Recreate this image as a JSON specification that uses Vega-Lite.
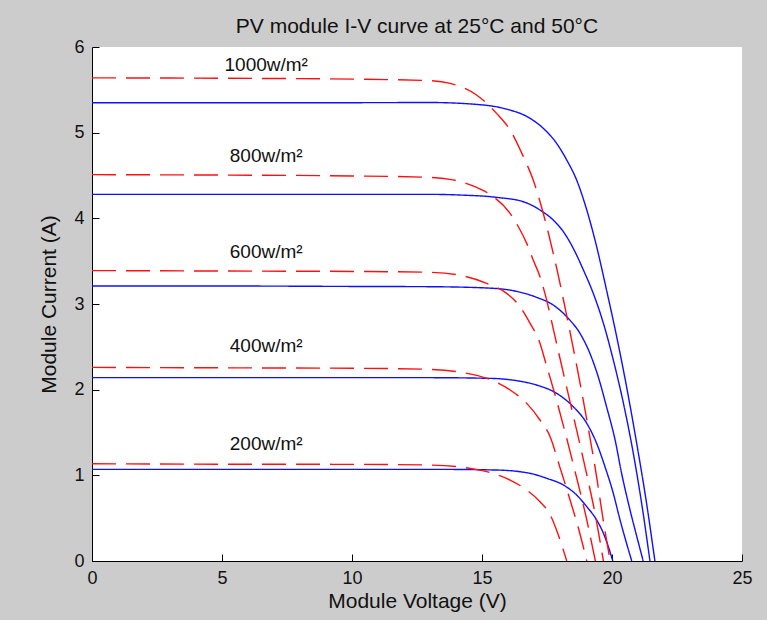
{
  "$schema": "https://vega.github.io/schema/vega-lite/v6.json",
  "width": 650,
  "height": 514,
  "autosize": {"type": "none"},
  "padding": {"left": 92, "top": 47, "right": 25, "bottom": 59},
  "background": "#cccccc",
  "config": {
    "view": {"stroke": null, "fill": "white"},
    "font": "Liberation Sans",
    "axis": {
      "grid": false,
      "domainColor": "#000000",
      "domainWidth": 1,
      "tickColor": "#000000",
      "tickSize": -7,
      "tickWidth": 1,
      "labelFont": "Liberation Sans",
      "labelFontSize": 18,
      "labelColor": "#111111",
      "labelPadding": 15,
      "labelFlush": false,
      "labelOverlap": false,
      "format": "d",
      "titleFont": "Liberation Sans",
      "titleFontSize": 21,
      "titleFontWeight": "normal",
      "titleColor": "#111111"
    }
  },
  "title": {
    "text": "PV module I-V curve at 25°C and 50°C",
    "font": "Liberation Sans",
    "fontSize": 21,
    "fontWeight": "normal",
    "color": "#111111",
    "anchor": "middle",
    "frame": "group",
    "offset": 1
  },
  "datasets": {
    "curves": [
      {"T": "25", "G": 1000, "V": 0, "I": 5.35}, {"T": "25", "G": 1000, "V": 5, "I": 5.35}, {"T": "25", "G": 1000, "V": 10, "I": 5.35}, {"T": "25", "G": 1000, "V": 13.0, "I": 5.352}, {"T": "25", "G": 1000, "V": 14.79, "I": 5.33}, {"T": "25", "G": 1000, "V": 15.82, "I": 5.284}, {"T": "25", "G": 1000, "V": 16.85, "I": 5.167}, {"T": "25", "G": 1000, "V": 17.36, "I": 5.05}, {"T": "25", "G": 1000, "V": 17.87, "I": 4.875}, {"T": "25", "G": 1000, "V": 18.26, "I": 4.68}, {"T": "25", "G": 1000, "V": 18.64, "I": 4.447}, {"T": "25", "G": 1000, "V": 19.03, "I": 4.097}, {"T": "25", "G": 1000, "V": 19.41, "I": 3.669}, {"T": "25", "G": 1000, "V": 19.79, "I": 3.163}, {"T": "25", "G": 1000, "V": 20.18, "I": 2.618}, {"T": "25", "G": 1000, "V": 20.56, "I": 2.035}, {"T": "25", "G": 1000, "V": 20.95, "I": 1.373}, {"T": "25", "G": 1000, "V": 21.33, "I": 0.673}, {"T": "25", "G": 1000, "V": 21.65, "I": 0},
      {"T": "25", "G": 800, "V": 0, "I": 4.28}, {"T": "25", "G": 800, "V": 5, "I": 4.28}, {"T": "25", "G": 800, "V": 10, "I": 4.28}, {"T": "25", "G": 800, "V": 13.0, "I": 4.28}, {"T": "25", "G": 800, "V": 14.15, "I": 4.272}, {"T": "25", "G": 800, "V": 15.56, "I": 4.245}, {"T": "25", "G": 800, "V": 16.59, "I": 4.194}, {"T": "25", "G": 800, "V": 17.23, "I": 4.097}, {"T": "25", "G": 800, "V": 17.74, "I": 3.98}, {"T": "25", "G": 800, "V": 18.13, "I": 3.844}, {"T": "25", "G": 800, "V": 18.51, "I": 3.65}, {"T": "25", "G": 800, "V": 18.9, "I": 3.397}, {"T": "25", "G": 800, "V": 19.28, "I": 3.124}, {"T": "25", "G": 800, "V": 19.67, "I": 2.774}, {"T": "25", "G": 800, "V": 20.05, "I": 2.346}, {"T": "25", "G": 800, "V": 20.44, "I": 1.84}, {"T": "25", "G": 800, "V": 20.82, "I": 1.256}, {"T": "25", "G": 800, "V": 21.14, "I": 0.673}, {"T": "25", "G": 800, "V": 21.46, "I": 0},
      {"T": "25", "G": 600, "V": 0, "I": 3.21}, {"T": "25", "G": 600, "V": 5, "I": 3.21}, {"T": "25", "G": 600, "V": 10, "I": 3.205}, {"T": "25", "G": 600, "V": 13.0, "I": 3.202}, {"T": "25", "G": 600, "V": 15.18, "I": 3.187}, {"T": "25", "G": 600, "V": 16.21, "I": 3.155}, {"T": "25", "G": 600, "V": 17.1, "I": 3.078}, {"T": "25", "G": 600, "V": 17.74, "I": 2.988}, {"T": "25", "G": 600, "V": 18.32, "I": 2.832}, {"T": "25", "G": 600, "V": 18.77, "I": 2.657}, {"T": "25", "G": 600, "V": 19.15, "I": 2.424}, {"T": "25", "G": 600, "V": 19.47, "I": 2.151}, {"T": "25", "G": 600, "V": 19.79, "I": 1.801}, {"T": "25", "G": 600, "V": 20.12, "I": 1.412}, {"T": "25", "G": 600, "V": 20.37, "I": 1.023}, {"T": "25", "G": 600, "V": 20.69, "I": 0.6}, {"T": "25", "G": 600, "V": 20.95, "I": 0.29}, {"T": "25", "G": 600, "V": 21.2, "I": 0},
      {"T": "25", "G": 400, "V": 0, "I": 2.14}, {"T": "25", "G": 400, "V": 5, "I": 2.14}, {"T": "25", "G": 400, "V": 10, "I": 2.14}, {"T": "25", "G": 400, "V": 13.0, "I": 2.14}, {"T": "25", "G": 400, "V": 15.31, "I": 2.132}, {"T": "25", "G": 400, "V": 16.33, "I": 2.105}, {"T": "25", "G": 400, "V": 17.1, "I": 2.054}, {"T": "25", "G": 400, "V": 17.87, "I": 1.957}, {"T": "25", "G": 400, "V": 18.51, "I": 1.801}, {"T": "25", "G": 400, "V": 19.03, "I": 1.607}, {"T": "25", "G": 400, "V": 19.41, "I": 1.373}, {"T": "25", "G": 400, "V": 19.73, "I": 1.101}, {"T": "25", "G": 400, "V": 20.05, "I": 0.79}, {"T": "25", "G": 400, "V": 20.31, "I": 0.479}, {"T": "25", "G": 400, "V": 20.56, "I": 0.206}, {"T": "25", "G": 400, "V": 20.76, "I": 0},
      {"T": "25", "G": 200, "V": 0, "I": 1.07}, {"T": "25", "G": 200, "V": 5, "I": 1.07}, {"T": "25", "G": 200, "V": 10, "I": 1.07}, {"T": "25", "G": 200, "V": 13.0, "I": 1.07}, {"T": "25", "G": 200, "V": 15.56, "I": 1.062}, {"T": "25", "G": 200, "V": 16.85, "I": 1.023}, {"T": "25", "G": 200, "V": 17.49, "I": 0.965}, {"T": "25", "G": 200, "V": 18.13, "I": 0.887}, {"T": "25", "G": 200, "V": 18.64, "I": 0.77}, {"T": "25", "G": 200, "V": 19.03, "I": 0.634}, {"T": "25", "G": 200, "V": 19.41, "I": 0.479}, {"T": "25", "G": 200, "V": 19.67, "I": 0.323}, {"T": "25", "G": 200, "V": 19.86, "I": 0.167}, {"T": "25", "G": 200, "V": 20.03, "I": 0},
      {"T": "50", "G": 1000, "V": 0, "I": 5.64}, {"T": "50", "G": 1000, "V": 5, "I": 5.635}, {"T": "50", "G": 1000, "V": 10, "I": 5.625}, {"T": "50", "G": 1000, "V": 13.0, "I": 5.607}, {"T": "50", "G": 1000, "V": 13.77, "I": 5.576}, {"T": "50", "G": 1000, "V": 14.79, "I": 5.44}, {"T": "50", "G": 1000, "V": 15.56, "I": 5.225}, {"T": "50", "G": 1000, "V": 16.08, "I": 5.031}, {"T": "50", "G": 1000, "V": 16.59, "I": 4.72}, {"T": "50", "G": 1000, "V": 16.97, "I": 4.447}, {"T": "50", "G": 1000, "V": 17.3, "I": 4.12}, {"T": "50", "G": 1000, "V": 17.6, "I": 3.77}, {"T": "50", "G": 1000, "V": 17.9, "I": 3.38}, {"T": "50", "G": 1000, "V": 18.2, "I": 2.95}, {"T": "50", "G": 1000, "V": 18.5, "I": 2.5}, {"T": "50", "G": 1000, "V": 18.8, "I": 2.03}, {"T": "50", "G": 1000, "V": 19.1, "I": 1.53}, {"T": "50", "G": 1000, "V": 19.4, "I": 1.0}, {"T": "50", "G": 1000, "V": 19.65, "I": 0.5}, {"T": "50", "G": 1000, "V": 19.93, "I": 0},
      {"T": "50", "G": 800, "V": 0, "I": 4.51}, {"T": "50", "G": 800, "V": 5, "I": 4.505}, {"T": "50", "G": 800, "V": 10, "I": 4.495}, {"T": "50", "G": 800, "V": 13.0, "I": 4.478}, {"T": "50", "G": 800, "V": 13.77, "I": 4.455}, {"T": "50", "G": 800, "V": 14.73, "I": 4.37}, {"T": "50", "G": 800, "V": 15.24, "I": 4.292}, {"T": "50", "G": 800, "V": 16.08, "I": 4.058}, {"T": "50", "G": 800, "V": 16.4, "I": 3.902}, {"T": "50", "G": 800, "V": 16.72, "I": 3.708}, {"T": "50", "G": 800, "V": 16.97, "I": 3.513}, {"T": "50", "G": 800, "V": 17.23, "I": 3.319}, {"T": "50", "G": 800, "V": 17.42, "I": 3.124}, {"T": "50", "G": 800, "V": 17.8, "I": 2.63}, {"T": "50", "G": 800, "V": 18.2, "I": 2.1}, {"T": "50", "G": 800, "V": 18.6, "I": 1.58}, {"T": "50", "G": 800, "V": 19.0, "I": 1.05}, {"T": "50", "G": 800, "V": 19.35, "I": 0.55}, {"T": "50", "G": 800, "V": 19.67, "I": 0},
      {"T": "50", "G": 600, "V": 0, "I": 3.39}, {"T": "50", "G": 600, "V": 5, "I": 3.385}, {"T": "50", "G": 600, "V": 10, "I": 3.38}, {"T": "50", "G": 600, "V": 13.0, "I": 3.37}, {"T": "50", "G": 600, "V": 14.28, "I": 3.327}, {"T": "50", "G": 600, "V": 15.18, "I": 3.241}, {"T": "50", "G": 600, "V": 15.95, "I": 3.124}, {"T": "50", "G": 600, "V": 16.46, "I": 2.969}, {"T": "50", "G": 600, "V": 16.85, "I": 2.774}, {"T": "50", "G": 600, "V": 17.23, "I": 2.541}, {"T": "50", "G": 600, "V": 17.42, "I": 2.346}, {"T": "50", "G": 600, "V": 17.8, "I": 1.95}, {"T": "50", "G": 600, "V": 18.2, "I": 1.5}, {"T": "50", "G": 600, "V": 18.6, "I": 1.02}, {"T": "50", "G": 600, "V": 19.0, "I": 0.52}, {"T": "50", "G": 600, "V": 19.36, "I": 0},
      {"T": "50", "G": 400, "V": 0, "I": 2.26}, {"T": "50", "G": 400, "V": 5, "I": 2.255}, {"T": "50", "G": 400, "V": 10, "I": 2.25}, {"T": "50", "G": 400, "V": 13.0, "I": 2.237}, {"T": "50", "G": 400, "V": 14.28, "I": 2.198}, {"T": "50", "G": 400, "V": 15.18, "I": 2.132}, {"T": "50", "G": 400, "V": 16.08, "I": 1.996}, {"T": "50", "G": 400, "V": 16.72, "I": 1.84}, {"T": "50", "G": 400, "V": 17.23, "I": 1.646}, {"T": "50", "G": 400, "V": 17.62, "I": 1.451}, {"T": "50", "G": 400, "V": 18.0, "I": 1.09}, {"T": "50", "G": 400, "V": 18.4, "I": 0.7}, {"T": "50", "G": 400, "V": 18.72, "I": 0.37}, {"T": "50", "G": 400, "V": 19.03, "I": 0},
      {"T": "50", "G": 200, "V": 0, "I": 1.135}, {"T": "50", "G": 200, "V": 5, "I": 1.13}, {"T": "50", "G": 200, "V": 10, "I": 1.128}, {"T": "50", "G": 200, "V": 13.0, "I": 1.12}, {"T": "50", "G": 200, "V": 14.28, "I": 1.093}, {"T": "50", "G": 200, "V": 15.18, "I": 1.043}, {"T": "50", "G": 200, "V": 16.08, "I": 0.945}, {"T": "50", "G": 200, "V": 16.72, "I": 0.829}, {"T": "50", "G": 200, "V": 17.23, "I": 0.692}, {"T": "50", "G": 200, "V": 17.62, "I": 0.54}, {"T": "50", "G": 200, "V": 17.94, "I": 0.3}, {"T": "50", "G": 200, "V": 18.26, "I": 0}
    ],
    "labels": [
      {"label": "1000w/m²", "V": 6.7, "I": 5.72},
      {"label": "800w/m²", "V": 6.7, "I": 4.66},
      {"label": "600w/m²", "V": 6.7, "I": 3.54},
      {"label": "400w/m²", "V": 6.7, "I": 2.44},
      {"label": "200w/m²", "V": 6.7, "I": 1.3}
    ]
  },
  "layer": [
    {
      "data": {"name": "curves"},
      "mark": {"type": "line", "interpolate": "monotone", "strokeWidth": 1.4, "clip": true},
      "encoding": {
        "x": {
          "field": "V", "type": "quantitative",
          "scale": {"domain": [0, 25], "nice": false, "zero": false},
          "axis": {"values": [0, 5, 10, 15, 20, 25], "title": "Module Voltage (V)", "titlePadding": 3}
        },
        "y": {
          "field": "I", "type": "quantitative",
          "scale": {"domain": [0, 6], "nice": false},
          "axis": {"values": [0, 1, 2, 3, 4, 5, 6], "title": "Module Current (A)", "titlePadding": 14}
        },
        "color": {
          "field": "T", "type": "nominal",
          "scale": {"domain": ["25", "50"], "range": ["#1010ff", "#ff1010"]},
          "legend": null
        },
        "strokeDash": {
          "field": "T", "type": "nominal",
          "scale": {"domain": ["25", "50"], "range": [[1, 0], [24, 10]]},
          "legend": null
        },
        "detail": {"field": "G", "type": "nominal"}
      }
    },
    {
      "data": {"name": "labels"},
      "mark": {"type": "text", "font": "Liberation Sans", "fontSize": 19, "align": "center", "baseline": "alphabetic", "color": "#111111"},
      "encoding": {
        "x": {"field": "V", "type": "quantitative"},
        "y": {"field": "I", "type": "quantitative"},
        "text": {"field": "label"}
      }
    }
  ]
}
